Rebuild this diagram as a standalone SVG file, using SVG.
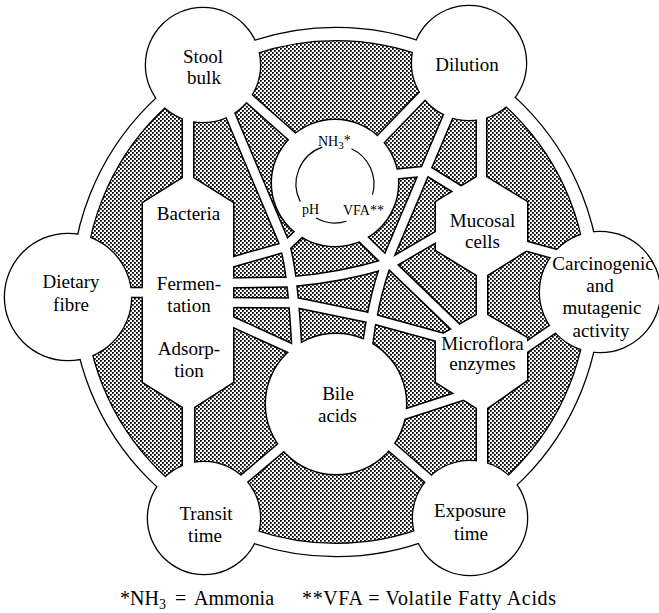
<svg xmlns="http://www.w3.org/2000/svg" width="659" height="613" viewBox="0 0 659 613">
<defs>
  <pattern id="dots" width="4" height="4" patternUnits="userSpaceOnUse">
    <rect x="0" y="0" width="1.8" height="1.8" fill="#000"/>
    <rect x="2" y="2" width="1.8" height="1.8" fill="#000"/>
  </pattern>
  <polygon id="colL" points="183,100 183,178 143,203 143,382 183,407 183,475 194,475 194,407 233,382 233,203 193,178 193,100"/>
  <polygon id="colR" points="477,100 477,177 436,202 436,250 477,275 477,315 436,338 436,382 477,408 477,475 487,475 487,408 527,380 527,338 487,315 487,275 527,250 527,202 486,177 486,100"/>
  <path id="p-df" d="M108,292.5 L156,292.5"/>
  <path id="p-r2" d="M224,100 L283,240 C290,258 294,292 297,352"/>
  <path id="p-r3" d="M455,100 L387,261 C380,280 372,306 367,350"/>
  <path id="p-r8" d="M236,87 L296,140"/>
  <path id="p-r9" d="M432,86 L378,142"/>
  <path id="p-ra" d="M222,265 L285,247 L304,229"/>
  <path id="p-rb" d="M222,283 L288,282 Q340,278 389,263"/>
  <path id="p-rc" d="M222,302.5 L298,303 L366,317 L450,340"/>
  <path id="p-rd" d="M222,317 L303,354"/>
  <path id="p-re" d="M386,175 L428,171 L470,197"/>
  <path id="p-rf" d="M388,265 L448,230"/>
  <path id="p-rg" d="M388,262 L466,337"/>
  <path id="p-rm" d="M352,228 L389,264"/>
  <path id="p-rh" d="M390,419 L470,393"/>
  <path id="p-ri" d="M380,437 L440,489"/>
  <path id="p-rj" d="M290,440 L232,489"/>
  <path id="p-rk" d="M515,243 L566,257"/>
  <path id="p-rl" d="M515,355 L563,322"/>
</defs>
<style>
  .cas{fill:none;stroke:#000;stroke-width:11.5;stroke-linejoin:round}
  .road{fill:none;stroke:#fff;stroke-width:8.5;stroke-linejoin:round}
  text{font-family:'Liberation Serif','DejaVu Serif',serif;fill:#000}
  .lbl{font-size:19px;text-anchor:middle}
  .sm{font-size:14px}
  .fn{font-size:20px}
  .arc{fill:none;stroke:#000;stroke-width:1.2}
  .blk{fill:#000}
  .wht{fill:#fff}
</style>
<rect width="659" height="613" fill="#fff"/>

<g id="backdrop">
  <circle cx="336" cy="292" r="253" fill="url(#dots)"/>
  <circle cx="336" cy="292" r="258" fill="none" stroke="#000" stroke-width="14.6"/>
  <g class="cas">
    <use href="#p-df"/><use href="#p-r2"/><use href="#p-r3"/><use href="#p-r8"/><use href="#p-r9"/>
    <use href="#p-ra"/><use href="#p-rb"/><use href="#p-rc"/><use href="#p-rd"/><use href="#p-re"/>
    <use href="#p-rf"/><use href="#p-rg"/><use href="#p-rm"/><use href="#p-rh"/><use href="#p-ri"/>
    <use href="#p-rj"/><use href="#p-rk"/><use href="#p-rl"/>
  </g>
  <use href="#colL" fill="#000" stroke="#000" stroke-width="3"/>
  <use href="#colR" fill="#000" stroke="#000" stroke-width="3"/>
  <g class="blk">
    <circle cx="203" cy="65" r="58.3"/>
    <circle cx="469" cy="63" r="58.3"/>
    <circle cx="600" cy="292" r="61.3"/>
    <circle cx="470" cy="518" r="58.3"/>
    <circle cx="204" cy="518" r="57.3"/>
    <circle cx="68" cy="297" r="64.3"/>
    <circle cx="335" cy="183" r="64.5"/>
    <circle cx="336" cy="404" r="71.5"/>
  </g>
</g>

<g id="connectors">
  <circle cx="336" cy="292" r="258" fill="none" stroke="#fff" stroke-width="12"/>
  <g class="road">
    <use href="#p-df"/><use href="#p-r2"/><use href="#p-r3"/><use href="#p-r8"/><use href="#p-r9"/>
    <use href="#p-ra"/><use href="#p-rb"/><use href="#p-rc"/><use href="#p-rd"/><use href="#p-re"/>
    <use href="#p-rf"/><use href="#p-rg"/><use href="#p-rm"/><use href="#p-rh"/><use href="#p-ri"/>
    <use href="#p-rj"/><use href="#p-rk"/><use href="#p-rl"/>
  </g>
</g>

<g font-family="Liberation Serif, DejaVu Serif, serif">
<g id="stool-bulk">
  <circle class="wht" cx="203" cy="65" r="57"/>
  <text class="lbl" x="203" y="63">Stool</text>
  <text class="lbl" x="204" y="84">bulk</text>
</g>
<g id="dilution">
  <circle class="wht" cx="469" cy="63" r="57"/>
  <text class="lbl" x="467" y="71">Dilution</text>
</g>
<g id="carcinogenic">
  <circle class="wht" cx="600" cy="292" r="60"/>
  <text class="lbl" x="603" y="270">Carcinogenic</text>
  <text class="lbl" x="600" y="292">and</text>
  <text class="lbl" x="602" y="314">mutagenic</text>
  <text class="lbl" x="601" y="337">activity</text>
</g>
<g id="exposure-time">
  <circle class="wht" cx="470" cy="518" r="57"/>
  <text class="lbl" x="470" y="517">Exposure</text>
  <text class="lbl" x="471" y="540">time</text>
</g>
<g id="transit-time">
  <circle class="wht" cx="204" cy="518" r="56"/>
  <text class="lbl" x="206" y="520">Transit</text>
  <text class="lbl" x="205" y="542">time</text>
</g>
<g id="dietary-fibre">
  <circle class="wht" cx="68" cy="297" r="63"/>
  <text class="lbl" x="71" y="288">Dietary</text>
  <text class="lbl" x="71" y="311">fibre</text>
</g>
<g id="bacteria-column">
  <use href="#colL" fill="#fff"/>
  <text class="lbl" x="188.5" y="220">Bacteria</text>
  <text class="lbl" x="189" y="290">Fermen-</text>
  <text class="lbl" x="189" y="312">tation</text>
  <text class="lbl" x="189" y="355">Adsorp-</text>
  <text class="lbl" x="189" y="377">tion</text>
</g>
<g id="mucosal-microflora-column">
  <use href="#colR" fill="#fff"/>
  <text class="lbl" x="482.5" y="227">Mucosal</text>
  <text class="lbl" x="482.5" y="248">cells</text>
  <text class="lbl" x="482.5" y="350">Microflora</text>
  <text class="lbl" x="482.5" y="370">enzymes</text>
</g>
<g id="nh3-ph-vfa">
  <circle class="wht" cx="335" cy="183" r="63"/>
  <path class="arc" d="M351.5,148.7 A39,39 0 0 1 372.5,194.7"/>
  <path class="arc" d="M346.4,221.3 A39,39 0 0 1 316.1,218.1"/>
  <path class="arc" d="M300.3,201.7 A39,39 0 0 1 322.3,147.1"/>
  <text class="sm" x="318" y="146">NH<tspan font-size="11" dy="3">3</tspan><tspan dy="-4">*</tspan></text>
  <text class="sm" x="302" y="214">pH</text>
  <text class="sm" x="343" y="215">VFA**</text>
</g>
<g id="bile-acids">
  <circle class="wht" cx="336" cy="404" r="70"/>
  <text class="lbl" x="338" y="400">Bile</text>
  <text class="lbl" x="337.5" y="422">acids</text>
</g>

<g id="footnote">
  <text class="fn" x="120" y="605" word-spacing="4">*NH<tspan font-size="14" dy="4">3</tspan><tspan dy="-4"> = Ammonia</tspan></text>
  <text class="fn" x="302" y="605" textLength="254" lengthAdjust="spacing">**VFA = Volatile Fatty Acids</text>
</g>
</g>
</svg>
